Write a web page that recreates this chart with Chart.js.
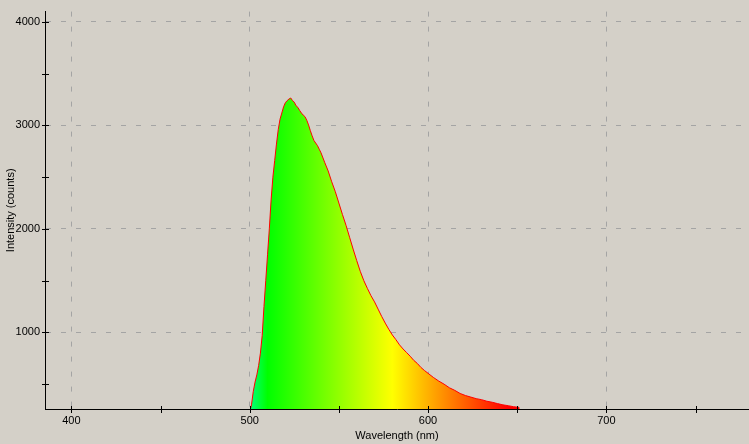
<!DOCTYPE html>
<html>
<head>
<meta charset="utf-8">
<script src="https://cdn.jsdelivr.net/npm/chart.js@4"></script>
<style>
  html, body { margin: 0; padding: 0; background: #d4d0c8; overflow: hidden; }
  canvas { display: block; }
</style>
</head>
<body>
<canvas id="chart" width="749" height="444"></canvas>
<script>
// spectrum (nm -> counts)
const wavelengths = [
  496, 499, 500, 501, 502, 503, 504, 505, 506, 507, 508, 509, 510, 511, 512, 513, 514, 515,
  516, 517, 518, 519, 520, 521, 522, 523, 524, 525, 526, 527, 528, 529, 530, 531, 532, 533,
  534, 535, 536, 537, 538, 539, 540, 542, 544, 546, 548, 550, 552, 554, 556, 558, 560, 562,
  564, 566, 568, 570, 572, 574, 576, 578, 580, 582, 584, 586, 588, 590, 592, 594, 596, 598,
  600, 603, 606, 609, 612, 615, 618, 621, 624, 627, 630, 633, 636, 639, 642, 645, 648, 651, 651.5
];
const intensities = [
  0, 100, 230, 300, 430, 520, 590, 680, 800, 970, 1250, 1500, 1750, 2000, 2280, 2500, 2660, 2820,
  2960, 3060, 3120, 3180, 3220, 3240, 3255, 3265, 3240, 3225, 3190, 3175, 3145, 3120, 3100, 3085, 3050, 3005,
  2950, 2900, 2855, 2830, 2805, 2770, 2735, 2645, 2560, 2455, 2360, 2250, 2140, 2035, 1920, 1805, 1695, 1590,
  1500, 1425, 1355, 1295, 1225, 1155, 1090, 1030, 975, 930, 880, 840, 805, 770, 730, 700, 662, 632,
  605, 565, 530, 500, 465, 440, 410, 390, 375, 360, 350, 335, 325, 312, 300, 292, 282, 276, 0
];

const xTicks = [400, 450, 500, 550, 600, 650, 700, 750];
const xLabels = [400, 500, 600, 700];
const yTicks = [500, 1000, 1500, 2000, 2500, 3000, 3500, 4000];
const yLabels = [1000, 2000, 3000, 4000];

const font = { family: "'Liberation Sans', Arial, sans-serif", size: 11 };
const gridGray = '#a4a4a4';

// visible-spectrum colours across the fill
function spectrumFill(context) {
  const chart = context.chart;
  if (!chart.chartArea) return 'rgba(0,0,0,0)';
  const x = chart.scales.x;
  const x0 = x.getPixelForValue(490), x1 = x.getPixelForValue(645);
  const g = chart.ctx.createLinearGradient(x0, 0, x1, 0);
  g.addColorStop(0, '#00ffff');
  g.addColorStop(10 / 155, '#00ff80');
  g.addColorStop(20 / 155, '#00ff00');
  g.addColorStop(90 / 155, '#ffff00');
  g.addColorStop(1, '#ff0000');
  return g;
}

// tick marks that cross the axis lines
const crossTicks = {
  id: 'crossTicks',
  afterDraw(chart) {
    const { ctx, chartArea: a, scales: { x, y } } = chart;
    ctx.save();
    ctx.strokeStyle = '#000';
    ctx.lineWidth = 1;
    ctx.beginPath();
    xTicks.forEach(v => {
      const px = Math.round(x.getPixelForValue(v)) + 0.5;
      ctx.moveTo(px, a.bottom - 3);
      ctx.lineTo(px, a.bottom + 4);
    });
    yTicks.forEach(v => {
      const py = Math.round(y.getPixelForValue(v)) + 0.5;
      ctx.moveTo(a.left - 3, py);
      ctx.lineTo(a.left + 4, py);
    });
    ctx.stroke();
    ctx.restore();
  }
};

new Chart(document.getElementById('chart'), {
  type: 'line',
  data: {
    datasets: [{
      data: wavelengths.map((w, i) => ({ x: w, y: intensities[i] })),
      borderColor: '#ff0000',
      borderWidth: 1,
      backgroundColor: spectrumFill,
      fill: 'start',
      pointRadius: 0,
      tension: 0
    }]
  },
  options: {
    responsive: false,
    devicePixelRatio: 1,
    animation: false,
    layout: { padding: { top: 11, left: 0, right: 0, bottom: 0 } },
    plugins: { legend: { display: false }, tooltip: { enabled: false } },
    scales: {
      x: {
        type: 'linear',
        min: 385.2,
        max: 780,
        z: 1,
        afterFit: s => { s.height = 35; },
        afterBuildTicks: s => { s.ticks = xTicks.map(v => ({ value: v })); },
        ticks: {
          autoSkip: false, maxRotation: 0, padding: 5, color: '#000', font,
          callback: v => xLabels.includes(v) ? String(v) : ''
        },
        grid: {
          drawTicks: false,
          color: c => (c.tick && xLabels.includes(c.tick.value)) ? gridGray : 'rgba(0,0,0,0)'
        },
        border: { color: '#000', width: 1, dash: [5, 10] },
        title: { display: true, text: 'Wavelength (nm)', color: '#000', font, padding: { top: 0, bottom: 1 } }
      },
      y: {
        type: 'linear',
        min: 260,
        max: 4100,
        z: 1,
        afterFit: s => { s.width = 45; },
        afterBuildTicks: s => { s.ticks = yTicks.map(v => ({ value: v })); },
        ticks: {
          autoSkip: false, padding: 5, color: '#000', font,
          callback: v => yLabels.includes(v) ? String(v) : ''
        },
        grid: {
          drawTicks: false,
          color: c => (c.tick && yLabels.includes(c.tick.value)) ? gridGray : 'rgba(0,0,0,0)'
        },
        border: { color: '#000', width: 1, dash: [5, 10] },
        title: { display: true, text: 'Intensity (counts)', color: '#000', font, padding: { top: 4, bottom: 0 } }
      }
    }
  },
  plugins: [crossTicks]
});
</script>
</body>
</html>
